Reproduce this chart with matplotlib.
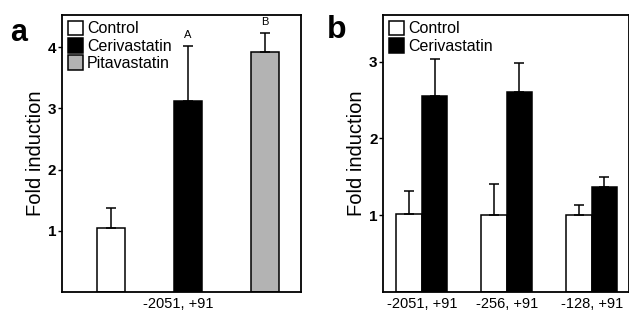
import matplotlib.pyplot as plt
from matplotlib.patches import Patch

plt.rcParams['font.family'] = ['Liberation Sans', 'DejaVu Sans']

# Panel a data
a_groups = ["Control", "Cerivastatin", "Pitavastatin"]
a_values = [1.05, 3.12, 3.92]
a_errors = [0.32, 0.90, 0.32]
a_colors = ["white", "black", "#b3b3b3"]
a_marks = ["", "A", "B"]
a_xlabel = "-2051, +91"

# Panel b data
b_constructs = ["-2051, +91", "-256, +91", "-128, +91"]
b_control = [1.01, 1.00, 1.00]
b_control_err = [0.31, 0.40, 0.13]
b_ceriv = [2.56, 2.60, 1.36]
b_ceriv_err = [0.47, 0.38, 0.14]

fig = plt.figure(figsize=(6.29, 3.13), dpi=100)
ax_a = fig.add_axes([0.0986, 0.068, 0.3799, 0.884])
ax_b = fig.add_axes([0.609, 0.068, 0.391, 0.884])

err_kw = dict(ecolor="black", elinewidth=1.1, capsize=3.5, capthick=1.1)

# ---- panel a ----
xa = list(range(len(a_groups)))
for i in xa:
    ax_a.bar(xa[i], a_values[i], width=0.36, color=a_colors[i], edgecolor="black",
             linewidth=1.1, yerr=[[0], [a_errors[i]]], error_kw=err_kw, zorder=2)
    if a_marks[i]:
        ax_a.text(xa[i], a_values[i] + a_errors[i] + 0.1, a_marks[i],
                  ha="center", va="bottom", fontsize=8)
ax_a.set_xlim(-0.636, 2.47)
ax_a.set_ylim(0, 4.53)
ax_a.set_yticks([1, 2, 3, 4])
ax_a.set_xticks([(ax_a.get_xlim()[0] + ax_a.get_xlim()[1]) / 2 - 0.04])
ax_a.set_xticklabels([a_xlabel], fontsize=10.5)
ax_a.set_ylabel("Fold induction", fontsize=14.5, labelpad=2)
handles_a = [Patch(facecolor=c, edgecolor="black", linewidth=1.1) for c in a_colors]
ax_a.legend(handles_a, a_groups, loc="upper left", frameon=False, fontsize=11.5,
            handlelength=0.95, handleheight=1.05, handletextpad=0.25,
            labelspacing=0.08, borderaxespad=0.15, borderpad=0.2)
fig.text(0.016, 0.87, "a", fontsize=22, fontweight="bold")

# ---- panel b ----
w = 0.3
xb = list(range(len(b_constructs)))
ax_b.bar([x - w / 2 for x in xb], b_control, width=w, color="white", edgecolor="black",
         linewidth=1.1, yerr=[[0] * 3, b_control_err], error_kw=err_kw, zorder=2)
ax_b.bar([x + w / 2 for x in xb], b_ceriv, width=w, color="black", edgecolor="black",
         linewidth=1.1, yerr=[[0] * 3, b_ceriv_err], error_kw=err_kw, zorder=2)
ax_b.set_xlim(-0.457, 2.44)
ax_b.set_ylim(0, 3.61)
ax_b.set_yticks([1, 2, 3])
ax_b.set_xticks(xb)
ax_b.set_xticklabels(b_constructs, fontsize=10.5)
ax_b.set_ylabel("Fold induction", fontsize=14.5, labelpad=2)
handles_b = [Patch(facecolor=c, edgecolor="black", linewidth=1.1) for c in ["white", "black"]]
ax_b.legend(handles_b, ["Control", "Cerivastatin"], loc="upper left", frameon=False,
            fontsize=11.5, handlelength=0.95, handleheight=1.05, handletextpad=0.25,
            labelspacing=0.08, borderaxespad=0.15, borderpad=0.2)
fig.text(0.52, 0.88, "b", fontsize=23, fontweight="bold")

for ax in (ax_a, ax_b):
    for s in ax.spines.values():
        s.set_linewidth(1.3)
    ax.tick_params(axis="x", length=0, pad=4)
    ax.tick_params(axis="y", length=3, width=1, direction="out", pad=1)
    for lab in ax.get_yticklabels():
        lab.set_fontweight("bold")
        lab.set_fontsize(11)

fig.savefig("out.png", dpi=100)
